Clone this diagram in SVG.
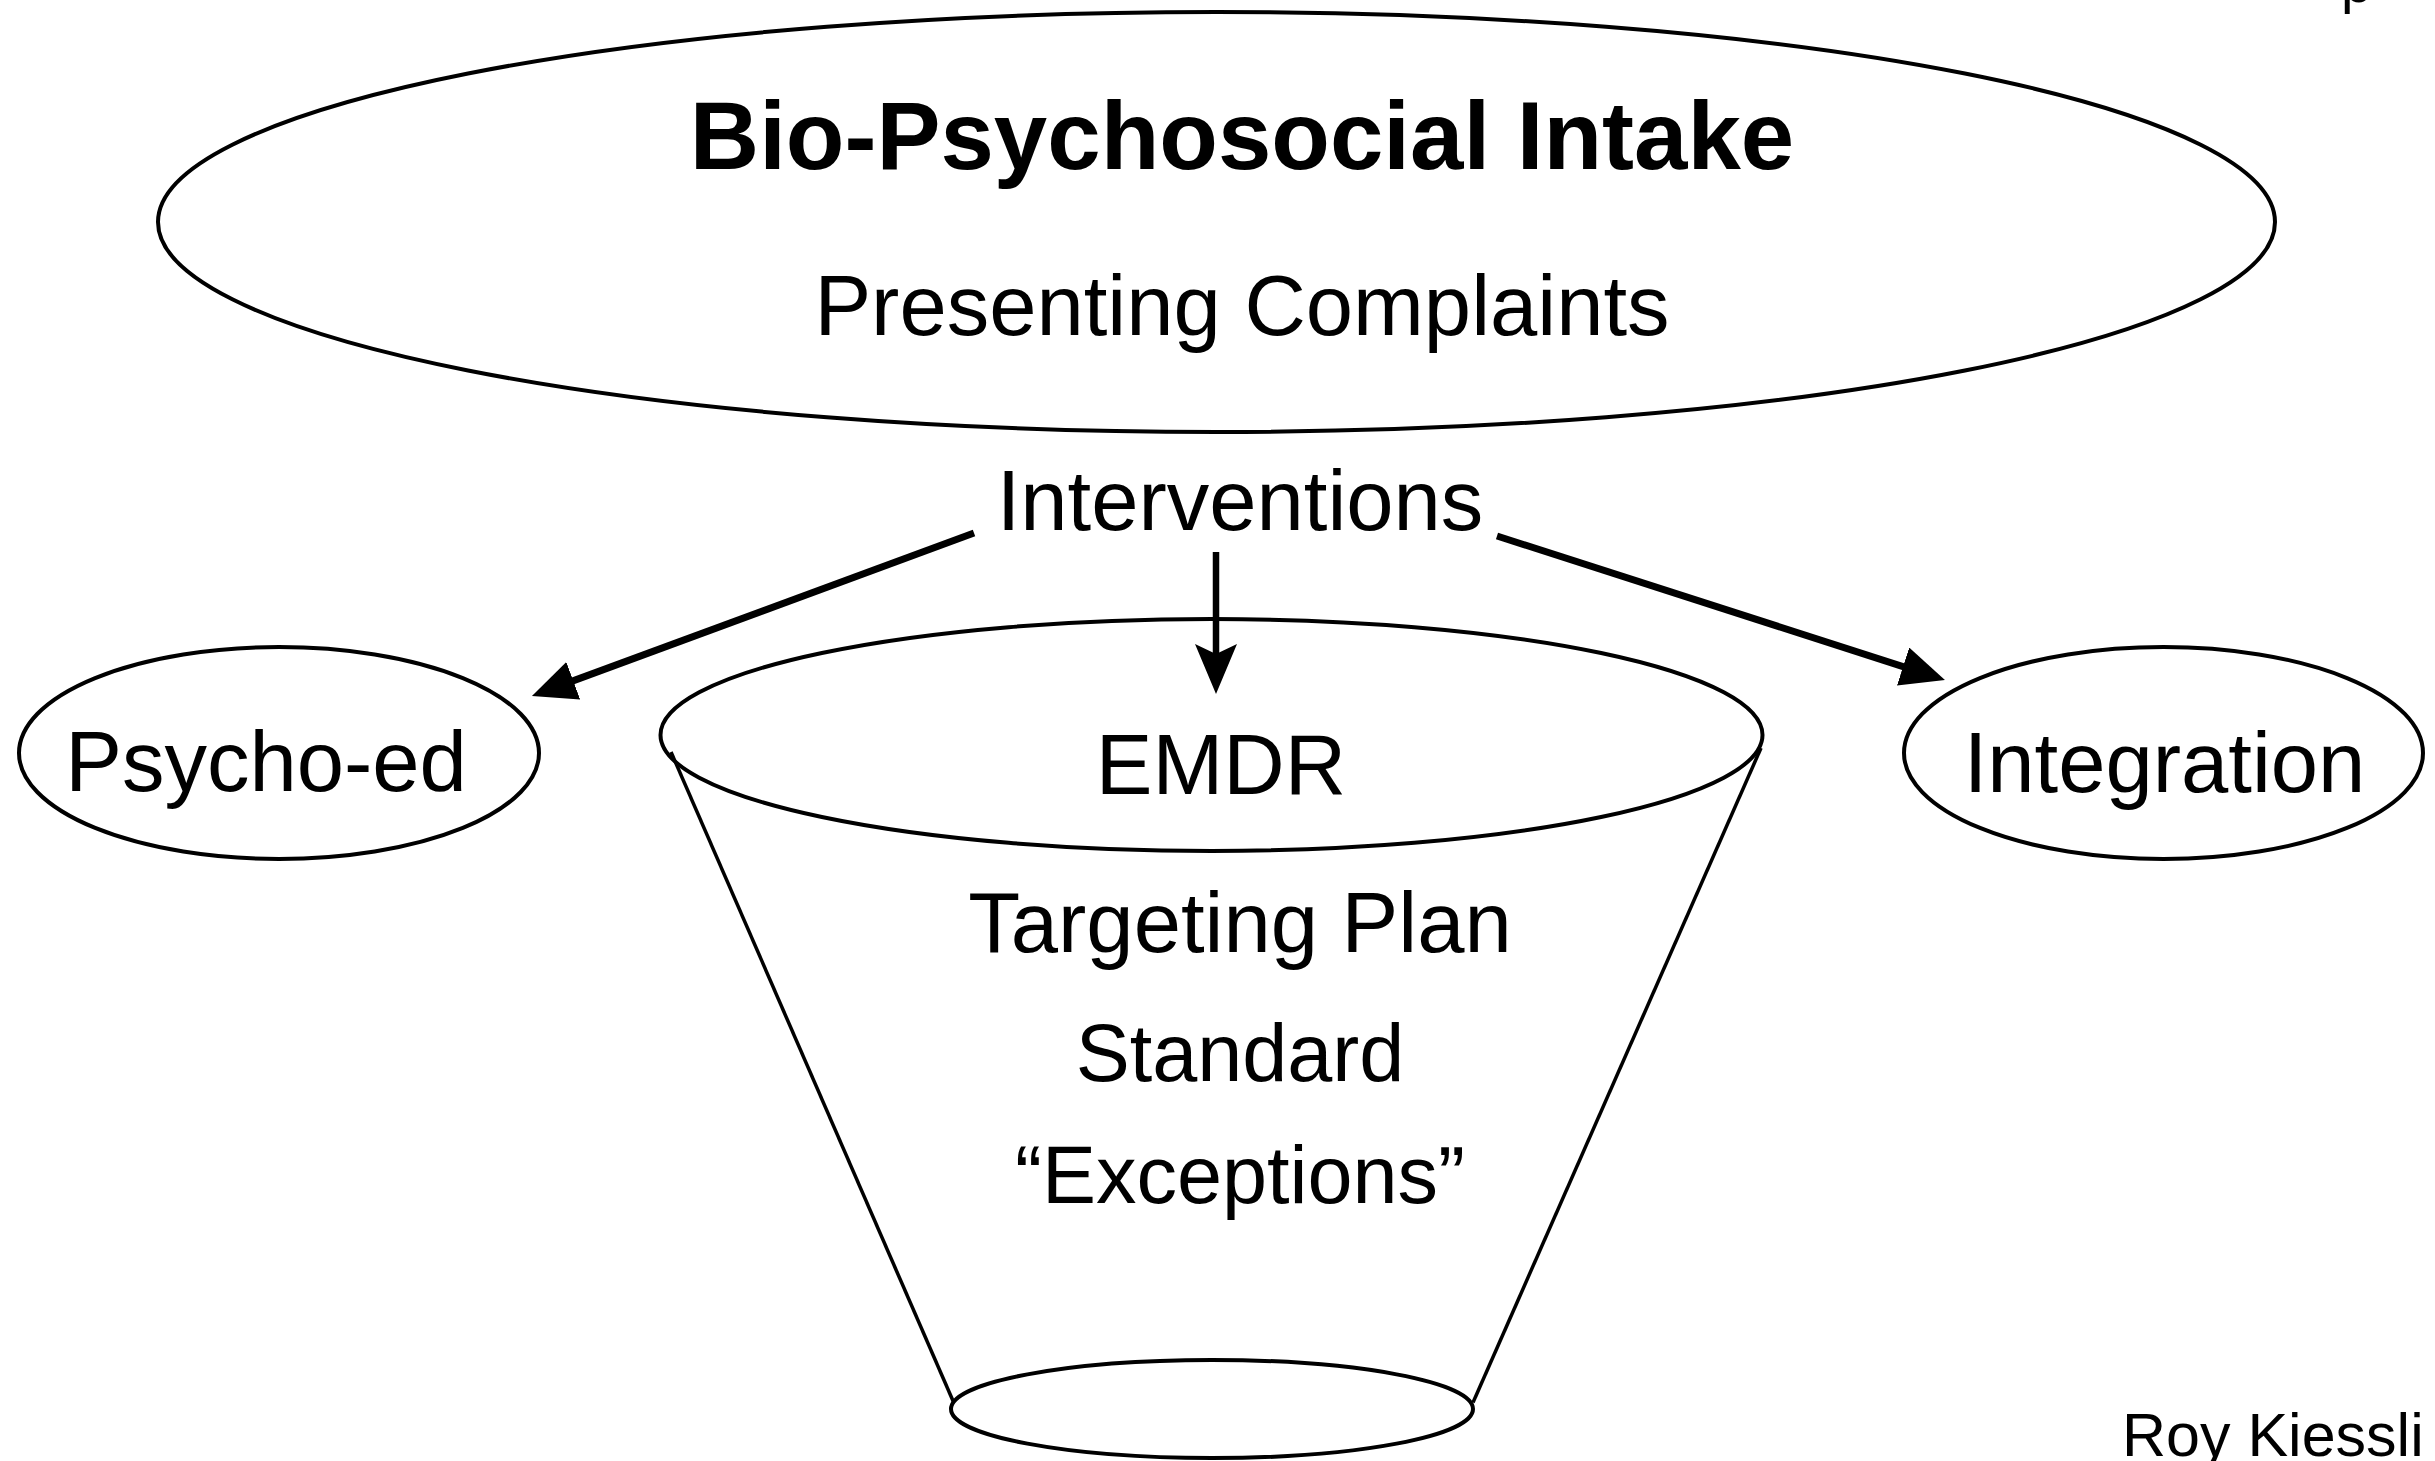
<svg xmlns="http://www.w3.org/2000/svg" width="2435" height="1461" viewBox="0 0 2435 1461">
  <style>
    .shape { fill: none; stroke: #000; stroke-width: 4; }
    .side { fill: none; stroke: #000; stroke-width: 3.5; }
    .t { font-family: "Liberation Sans", Arial, Helvetica, sans-serif; fill: #000; text-anchor: middle; }
    .ts { font-family: "Liberation Sans", Arial, Helvetica, sans-serif; fill: #000; text-anchor: start; }
    .reg { font-size: 85px; }
    .sm { font-size: 81px; }
    .bold { font-size: 96px; font-weight: bold; }
    .arrow { fill: none; stroke: #000; stroke-width: 7; }
    .arrow-mid { fill: none; stroke: #000; stroke-width: 6.5; }
  </style>
  <defs>
    <marker id="tri" viewBox="0 0 44 40" refX="22" refY="20" markerWidth="44" markerHeight="40" markerUnits="userSpaceOnUse" orient="auto">
      <path d="M0,0 L44,20 L0,40 z" fill="#000"/>
    </marker>
    <marker id="stealth" viewBox="0 0 50 42" refX="28" refY="21" markerWidth="50" markerHeight="42" markerUnits="userSpaceOnUse" orient="auto">
      <path d="M0,0 L50,21 L0,42 L10,21 z" fill="#000"/>
    </marker>
  </defs>
  <rect width="2435" height="1461" fill="#fff"/>

  <g id="intake">
    <ellipse class="shape" cx="1216.5" cy="222" rx="1058.5" ry="210"/>
    <text class="t bold" x="1242" y="169">Bio-Psychosocial Intake</text>
    <text class="t reg" x="1242" y="335">Presenting Complaints</text>
  </g>

  <g id="interventions">
    <text class="t reg" x="1240" y="530">Interventions</text>
  </g>

  <g id="psychoed">
    <ellipse class="shape" cx="279" cy="753" rx="260" ry="106"/>
    <text class="t reg" x="266" y="791">Psycho-ed</text>
  </g>

  <g id="emdr">
    <line class="side" x1="671" y1="752" x2="953.5" y2="1402"/>
    <line class="side" x1="1761" y1="748" x2="1473" y2="1402.5"/>
    <ellipse class="shape" cx="1212" cy="1409" rx="261" ry="49"/>
    <ellipse class="shape" cx="1211.5" cy="735" rx="551" ry="116"/>
    <text class="t reg" x="1221" y="794">EMDR</text>
    <text class="t reg" x="1240" y="952">Targeting Plan</text>
    <text class="t sm" x="1240" y="1081">Standard</text>
    <text class="t sm" x="1240" y="1203">“Exceptions”</text>
  </g>

  <g id="integration">
    <ellipse class="shape" cx="2163.5" cy="753" rx="259.5" ry="106"/>
    <text class="t reg" x="2164.5" y="792">Integration</text>
  </g>

  <g id="connectors">
    <line class="arrow" x1="974" y1="533" x2="552.6" y2="688.4" marker-end="url(#tri)"/>
    <line class="arrow-mid" x1="1216" y1="552" x2="1216" y2="672" marker-end="url(#stealth)"/>
    <line class="arrow" x1="1497" y1="536" x2="1924" y2="673.3" marker-end="url(#tri)"/>
  </g>

  <g id="page-marks">
    <text class="ts" x="2341" y="2" font-size="56">p</text>
    <text class="ts" x="2122" y="1456" font-size="61">Roy Kiessli</text>
  </g>
</svg>
